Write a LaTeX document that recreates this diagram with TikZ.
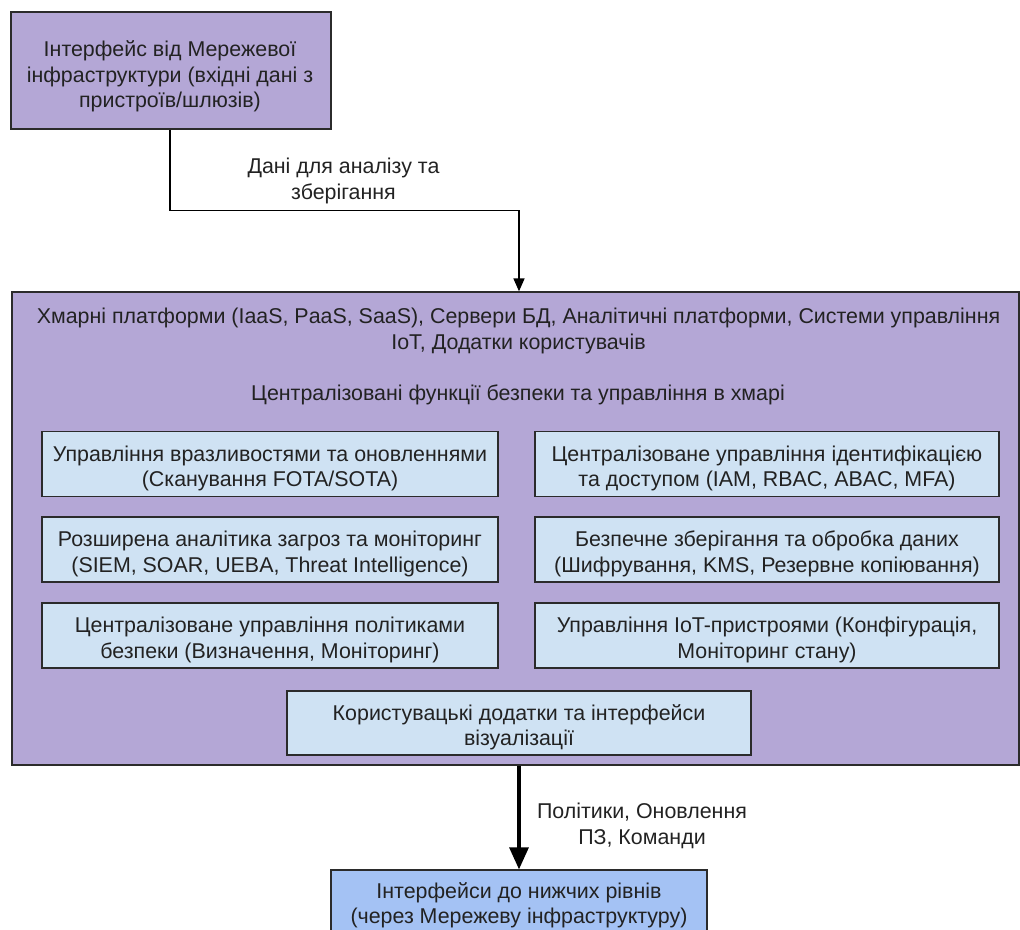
\documentclass[tikz,border=0pt]{standalone}
\usepackage{fontspec}
\setmainfont{Liberation Sans}
\usetikzlibrary{arrows.meta}
\definecolor{purp}{HTML}{B4A7D6}
\definecolor{lblue}{HTML}{CFE2F3}
\definecolor{cblue}{HTML}{A4C2F4}
\definecolor{edgec}{HTML}{2B2B2B}
\definecolor{txt}{HTML}{222222}
\begin{document}
\begin{tikzpicture}[x=1pt,y=-1pt,
  font=\fontsize{21.4}{25.5}\selectfont,
  box/.style={draw=edgec, line width=1.3pt, inner sep=0pt},
  lbl/.style={inner sep=0pt, align=center, text=txt},
  inner/.style={box, fill=lblue, minimum height=65pt},
  thinarrow/.style={draw=black, line width=1.6pt, -{Triangle[length=13pt,width=11pt]}},
  thickarrow/.style={draw=black, line width=3.2pt, -{Triangle[length=22pt,width=19pt]}}]
\useasboundingbox (0,0) rectangle (1020,929);
\clip (0,0) rectangle (1020,929);
% top box
\node[box, fill=purp, minimum width=320pt, minimum height=117pt] (top) at (171,70.5) {};
\node[lbl] (topt) at (170,76.5) {Інтерфейс від Мережевої\\інфраструктури (вхідні дані з\\пристроїв/шлюзів)};
% big container
\node[box, fill=purp, minimum width=1007pt, minimum height=473pt] (big) at (515.5,528.5) {};
\node[lbl] (t1) at (518.5,331) {Хмарні платформи (IaaS, PaaS, SaaS), Сервери БД, Аналітичні платформи, Системи управління\\IoT, Додатки користувачів};
\node[lbl] (t2) at (518,395) {Централізовані функції безпеки та управління в хмарі};
% inner boxes
\node[inner, minimum width=456pt] (a1) at (270,464) {};
\node[lbl] (a1t) at (270,468.3) {Управління вразливостями та оновленнями\\(Сканування FOTA/SOTA)};
\node[inner, minimum width=464pt] (b1) at (767,464) {};
\node[lbl] (b1t) at (767,468.3) {Централізоване управління ідентифікацією\\та доступом (IAM, RBAC, ABAC, MFA)};
\node[inner, minimum width=456pt] (a2) at (270,549.5) {};
\node[lbl] (a2t) at (270,553.8) {Розширена аналітика загроз та моніторинг\\(SIEM, SOAR, UEBA, Threat Intelligence)};
\node[inner, minimum width=464pt] (b2) at (767,549.5) {};
\node[lbl] (b2t) at (767,553.8) {Безпечне зберігання та обробка даних\\(Шифрування, KMS, Резервне копіювання)};
\node[inner, minimum width=456pt] (a3) at (270,635.5) {};
\node[lbl] (a3t) at (270,639.8) {Централізоване управління політиками\\безпеки (Визначення, Моніторинг)};
\node[inner, minimum width=464pt] (b3) at (767,635.5) {};
\node[lbl] (b3t) at (767,639.8) {Управління IoT-пристроями (Конфігурація,\\Моніторинг стану)};
\node[inner, minimum width=464pt, minimum height=64pt] (c1) at (519,723) {};
\node[lbl] (c1t) at (519,727.3) {Користувацькі додатки та інтерфейси\\візуалізації};
% bottom box
\node[box, fill=cblue, minimum width=376pt, minimum height=71pt] (bot) at (519,905.5) {};
\node[lbl] (bott) at (519,905.5) {Інтерфейси до нижчих рівнів\\(через Мережеву інфраструктуру)};
% connectors
\draw[thinarrow] ([xshift=-1pt]top.south) -- ++(0,81) -| ([xshift=3.5pt]big.north);
\node[lbl] (l1) at (343.5,181) {Дані для аналізу та\\зберігання};
\draw[thickarrow] (big.south -| bot.north) -- (bot.north);
\node[lbl] (l2) at (642,826) {Політики, Оновлення\\ПЗ, Команди};
\end{tikzpicture}
\end{document}
